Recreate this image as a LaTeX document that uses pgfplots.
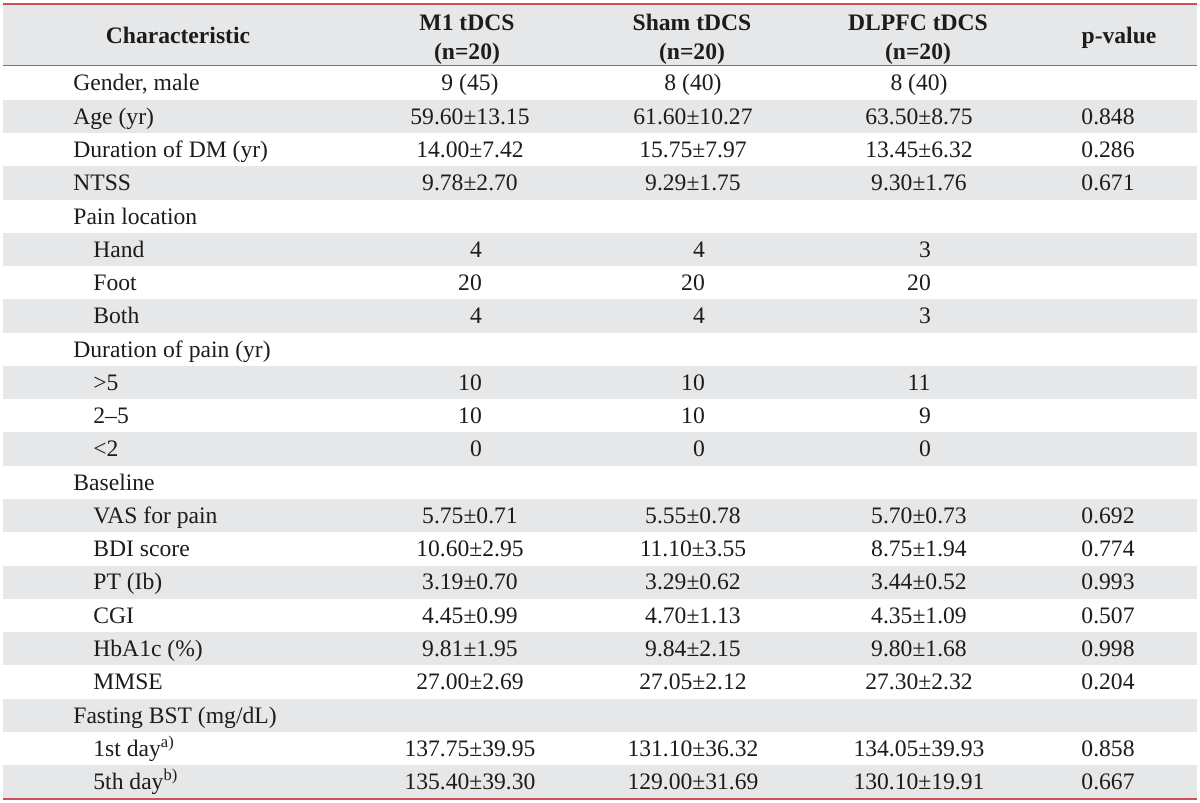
\documentclass[border=0pt]{standalone}
\usepackage{fontspec}
\setmainfont{Liberation Serif}
\usepackage{pgfplots}
\pgfplotsset{compat=1.18}
\usepackage{pgfplotstable}
\definecolor{bandgray}{RGB}{230,231,232}
\definecolor{rulered}{RGB}{206,80,88}
\definecolor{txt}{RGB}{30,27,28}

\pgfplotstableread[col sep=semicolon]{
i;x;label;m1;sham;dl;p
0;73;Gender, male;9 (45);8 (40);8 (40);{}
1;73;Age (yr);59.60±13.15;61.60±10.27;63.50±8.75;0.848
2;73;Duration of DM (yr);14.00±7.42;15.75±7.97;13.45±6.32;0.286
3;73;NTSS;9.78±2.70;9.29±1.75;9.30±1.76;0.671
4;73;Pain location;{};{};{};{}
5;93;Hand;\phantom{0}4;\phantom{0}4;\phantom{0}3;{}
6;93;Foot;20;20;20;{}
7;93;Both;\phantom{0}4;\phantom{0}4;\phantom{0}3;{}
8;73;Duration of pain (yr);{};{};{};{}
9;93;>5;10;10;11;{}
10;93;2--5;10;10;\phantom{0}9;{}
11;93;<2;\phantom{0}0;\phantom{0}0;\phantom{0}0;{}
12;73;Baseline;{};{};{};{}
13;93;VAS for pain;5.75±0.71;5.55±0.78;5.70±0.73;0.692
14;93;BDI score;10.60±2.95;11.10±3.55;8.75±1.94;0.774
15;93;PT (Ib);3.19±0.70;3.29±0.62;3.44±0.52;0.993
16;93;CGI;4.45±0.99;4.70±1.13;4.35±1.09;0.507
17;93;HbA1c (\%);9.81±1.95;9.84±2.15;9.80±1.68;0.998
18;93;MMSE;27.00±2.69;27.05±2.12;27.30±2.32;0.204
19;73;Fasting BST (mg/dL);{};{};{};{}
20;93;1st day\textsuperscript{a)};137.75±39.95;131.10±36.32;134.05±39.93;0.858
21;93;5th day\textsuperscript{b)};135.40±39.30;129.00±31.69;130.10±19.91;0.667
}\tbl

\newcommand{\bodyfont}{\fontsize{11.8}{14}\selectfont}
\newcommand{\headfont}{\fontsize{11.8}{14}\selectfont\bfseries}

\begin{document}
\begin{tikzpicture}
\begin{axis}[
  x=0.5pt, y=0.5pt,
  xmin=0, xmax=1200, ymin=0, ymax=803,
  y dir=reverse,
  hide axis,
  clip=false,
  font=\bodyfont,
  every node near coord/.append style={anchor=base, inner sep=0pt, text=txt, font=\bodyfont},
]
% background
\fill[white] (axis cs:0,0) rectangle (axis cs:1200,803);
% header band
\fill[bandgray] (axis cs:3,4) rectangle (axis cs:1197,65.5);
% row bands
\pgfplotsinvokeforeach{1,3,5,7,9,11,13,15,17,19,21}{
  \fill[bandgray] (axis cs:3,{66.5+33.27*#1}) rectangle (axis cs:1197,{66.5+33.27*(#1+1)});
}
% rules
\draw[rulered, line width=0.7pt] (axis cs:3,4) -- (axis cs:1197,4);
\draw[rulered, line width=0.8pt] (axis cs:3,65.5) -- (axis cs:1197,65.5);
\draw[rulered, line width=1pt] (axis cs:3,798.5) -- (axis cs:1197,798.5);
% header
\node[anchor=base, inner sep=0pt, text=txt, font=\headfont] at (axis cs:178,43.5) {Characteristic};
\node[anchor=base, inner sep=0pt, text=txt, font=\headfont] at (axis cs:467,30.5) {M1 tDCS};
\node[anchor=base, inner sep=0pt, text=txt, font=\headfont] at (axis cs:467,59.5) {(n=20)};
\node[anchor=base, inner sep=0pt, text=txt, font=\headfont] at (axis cs:692,30.5) {Sham tDCS};
\node[anchor=base, inner sep=0pt, text=txt, font=\headfont] at (axis cs:692,59.5) {(n=20)};
\node[anchor=base, inner sep=0pt, text=txt, font=\headfont] at (axis cs:918,30.5) {DLPFC tDCS};
\node[anchor=base, inner sep=0pt, text=txt, font=\headfont] at (axis cs:918,59.5) {(n=20)};
\node[anchor=base, inner sep=0pt, text=txt, font=\headfont] at (axis cs:1119,43.5) {p-value};
% body
\addplot[only marks, mark=none, nodes near coords, point meta=explicit symbolic,
  every node near coord/.append style={anchor=base west}]
  table[x=x, y expr={66.5+33.27*(\thisrow{i}+0.5)+7.8}, meta=label] {\tbl};
\addplot[only marks, mark=none, nodes near coords, point meta=explicit symbolic]
  table[x expr=470, y expr={66.5+33.27*(\thisrow{i}+0.5)+7.8}, meta=m1] {\tbl};
\addplot[only marks, mark=none, nodes near coords, point meta=explicit symbolic]
  table[x expr=693, y expr={66.5+33.27*(\thisrow{i}+0.5)+7.8}, meta=sham] {\tbl};
\addplot[only marks, mark=none, nodes near coords, point meta=explicit symbolic]
  table[x expr=919, y expr={66.5+33.27*(\thisrow{i}+0.5)+7.8}, meta=dl] {\tbl};
\addplot[only marks, mark=none, nodes near coords, point meta=explicit symbolic]
  table[x expr=1108, y expr={66.5+33.27*(\thisrow{i}+0.5)+7.8}, meta=p] {\tbl};
\end{axis}
\end{tikzpicture}
\end{document}
